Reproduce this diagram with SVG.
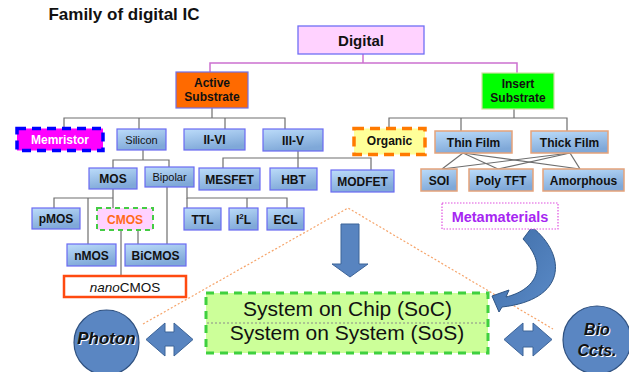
<svg xmlns="http://www.w3.org/2000/svg" width="629" height="372" viewBox="0 0 629 372">
  <defs>
    <linearGradient id="blue" x1="0" y1="0" x2="0.35" y2="1">
      <stop offset="0" stop-color="#BCDCFA"/>
      <stop offset="1" stop-color="#7FA8D8"/>
    </linearGradient>
    <linearGradient id="arc" x1="0" y1="0" x2="1" y2="1">
      <stop offset="0" stop-color="#3E6CA6"/>
      <stop offset="1" stop-color="#5B8BC8"/>
    </linearGradient>
  </defs>
  <style>
    text { font-family: "Liberation Sans", Arial, sans-serif; text-anchor: middle; fill: #111; }
    .b { font-weight: bold; font-size: 12px; }
    .r { font-size: 11px; }
    .bx { fill: url(#blue); stroke: #6A6AF2; stroke-width: 1.2; }
    .bo { fill: url(#blue); stroke: #E5A27A; stroke-width: 1.5; }
    .ln { fill: none; stroke: #6E6E6E; stroke-width: 1.2; }
    .mg { fill: none; stroke: #CC70D0; stroke-width: 1.5; }
    .dot { fill: none; stroke: #F6A46A; stroke-width: 1.2; stroke-dasharray: 2 2; }
    .blk { fill: #5884C0; stroke: #3D6498; stroke-width: 1; }
    .circ { fill: #5A86C2; stroke: #2F5180; stroke-width: 1.2; }
    .ci { font-weight: bold; font-style: italic; }
  </style>

  <!-- title -->
  <text x="124" y="20" style="font-size:17px;font-weight:bold;">Family of digital IC</text>

  <!-- connectors -->
  <g id="connectors">
    <polyline class="mg" points="363,54 363,63"/>
    <polyline class="mg" points="210,72 210,63 517,63 517,73"/>

    <polyline class="ln" points="212,108 212,118"/>
    <polyline class="ln" points="64,128 64,118 285,118 285,129"/>
    <polyline class="ln" points="139,118 139,129"/>
    <polyline class="ln" points="225,118 225,129"/>

    <polyline class="ln" points="514,109 514,118"/>
    <polyline class="ln" points="389,128 389,118 567,118 567,131"/>
    <polyline class="ln" points="461,118 461,131"/>

    <polyline class="ln" points="143,150 143,160"/>
    <polyline class="ln" points="113,168 113,160 169,160 169,167"/>

    <polyline class="ln" points="298,151 298,168"/>
    <polyline class="ln" points="223,168 223,158 371,158 371,170"/>

    <polyline class="ln" points="463,153 442,169"/>
    <polyline class="ln" points="463,153 498,169"/>
    <polyline class="ln" points="463,153 580,169"/>
    <polyline class="ln" points="570,153 442,169"/>
    <polyline class="ln" points="570,153 498,169"/>
    <polyline class="ln" points="570,153 580,169"/>

    <polyline class="ln" points="113,189 113,208"/>
    <polyline class="ln" points="54,208 54,198 113,198"/>
    <polyline class="ln" points="88,198 88,244"/>

    <polyline class="ln" points="167,187 167,244"/>
    <polyline class="ln" points="187,187 187,198 287,198 287,208"/>
    <polyline class="ln" points="187,198 187,208"/>
    <polyline class="ln" points="247,198 247,208"/>

    <polyline class="ln" points="138,230 138,244"/>
    <polyline class="ln" points="121,230 121,276"/>

    <!-- dotted fan from the family tree down to the system level -->
    <polyline class="dot" points="143,324 348,208 553,329"/>

    <!-- block arrows -->
    <path class="blk" d="M341 224 H359 V264 H368 L350 277 L332 264 H341 Z"/>
    <path class="blk" d="M146 339.5 L165 323 V332 H174 V323 L193 339.5 L174 356 V346 H165 V356 Z"/>
    <path class="blk" d="M504 339.5 L523 323 V331 H533 V323 L552 339.5 L533 356 V347 H523 V356 Z"/>
    <path d="M492 296 L509 290 L506 297 C531 291 552 270 523 239 L532 227 C568 256 566 300 502 307 L499 312 Z" fill="url(#arc)" stroke="#2F5584" stroke-width="1"/>
  </g>

  <!-- top level -->
  <g id="digital">
    <rect x="298" y="26" width="126" height="28" fill="#FFD2FF" stroke="#6F6FF5" stroke-width="1.3"/>
    <text x="361" y="45.5" style="font-size:15px;font-weight:bold;">Digital</text>
  </g>
  <g id="active">
    <rect x="176" y="72" width="72" height="36" fill="#FF6A00" stroke="#7070E8" stroke-width="1.2"/>
    <text class="b" x="212" y="87">Active</text>
    <text class="b" x="212" y="101">Substrate</text>
  </g>
  <g id="insert">
    <rect x="482" y="73" width="72" height="36" fill="#00FF00" stroke="#CFE0A0" stroke-width="1.2"/>
    <text class="b" x="518" y="88">Insert</text>
    <text class="b" x="518" y="101.5">Substrate</text>
  </g>

  <!-- active substrate branch -->
  <g id="memristor">
    <rect x="17" y="128.5" width="86" height="22" fill="#FF00FF" stroke="#0000FF" stroke-width="3.5" stroke-dasharray="9 6"/>
    <text class="b" x="60" y="143.5" style="fill:#FFFFFF;">Memristor</text>
  </g>
  <g id="silicon">
    <rect class="bx" x="117" y="129" width="49" height="21"/>
    <text class="r" x="141.5" y="143.5">Silicon</text>
  </g>
  <g id="ii-vi">
    <rect class="bx" x="184" y="129" width="61" height="21"/>
    <text class="b" x="214.5" y="144">II-VI</text>
  </g>
  <g id="iii-v">
    <rect class="bx" x="263" y="129" width="60" height="22"/>
    <text class="b" x="293" y="144.5">III-V</text>
  </g>
  <g id="mos">
    <rect class="bx" x="89" y="168" width="48" height="21"/>
    <text class="b" x="113" y="183">MOS</text>
  </g>
  <g id="bipolar">
    <rect class="bx" x="145" y="167" width="49" height="20"/>
    <text class="r" x="169.5" y="181">Bipolar</text>
  </g>
  <g id="mesfet">
    <rect class="bx" x="199" y="168" width="61" height="22"/>
    <text class="b" x="229.5" y="183.5">MESFET</text>
  </g>
  <g id="hbt">
    <rect class="bx" x="270" y="168" width="47" height="22"/>
    <text class="b" x="293.5" y="183.5">HBT</text>
  </g>
  <g id="modfet">
    <rect class="bx" x="331" y="170" width="63" height="22"/>
    <text class="b" x="362.5" y="185.5">MODFET</text>
  </g>
  <g id="pmos">
    <rect class="bx" x="32" y="208" width="48" height="21"/>
    <text class="b" x="56" y="223">pMOS</text>
  </g>
  <g id="cmos">
    <rect x="97" y="208" width="56" height="22" fill="#FFD2FF" stroke="#44CC44" stroke-width="2" stroke-dasharray="5 4"/>
    <text class="b" x="125" y="223.5" style="fill:#FF6A1A;">CMOS</text>
  </g>
  <g id="ttl">
    <rect class="bx" x="184" y="208" width="37" height="22"/>
    <text class="b" x="202.5" y="223.5">TTL</text>
  </g>
  <g id="i2l">
    <rect class="bx" x="229" y="208" width="29" height="22"/>
    <text class="b" x="243.5" y="223.5">I<tspan style="font-size:8px;" dy="-5">2</tspan><tspan dy="5">L</tspan></text>
  </g>
  <g id="ecl">
    <rect class="bx" x="267" y="208" width="37" height="22"/>
    <text class="b" x="285.5" y="223.5">ECL</text>
  </g>
  <g id="nmos">
    <rect class="bx" x="67" y="244" width="49" height="22"/>
    <text class="b" x="91.5" y="259.5">nMOS</text>
  </g>
  <g id="bicmos">
    <rect class="bx" x="125" y="244" width="61" height="22"/>
    <text class="b" x="155.5" y="259.5">BiCMOS</text>
  </g>
  <g id="nanocmos">
    <rect x="64" y="276" width="122" height="21" fill="#FFFFFF" stroke="#FF4A10" stroke-width="2.5"/>
    <text x="125" y="291.5" style="font-size:13.5px;"><tspan style="font-style:italic;">nano</tspan>CMOS</text>
  </g>

  <!-- insert substrate branch -->
  <g id="organic">
    <rect x="354" y="128.5" width="71" height="26" fill="#FFFF99" stroke="#FF7A00" stroke-width="3.5" stroke-dasharray="10 6"/>
    <text class="b" x="389.5" y="145">Organic</text>
  </g>
  <g id="thin-film">
    <rect class="bo" x="435" y="131" width="77" height="22"/>
    <text class="b" x="473.5" y="146.5">Thin Film</text>
  </g>
  <g id="thick-film">
    <rect class="bo" x="531" y="131" width="77" height="22"/>
    <text class="b" x="569.5" y="146.5">Thick Film</text>
  </g>
  <g id="soi">
    <rect class="bo" x="421" y="169" width="36" height="22"/>
    <text class="b" x="439" y="184.5">SOI</text>
  </g>
  <g id="poly-tft">
    <rect class="bo" x="469" y="169" width="64" height="22"/>
    <text class="b" x="501" y="184.5">Poly TFT</text>
  </g>
  <g id="amorphous">
    <rect class="bo" x="543" y="169" width="81" height="22"/>
    <text class="b" x="583.5" y="184.5">Amorphous</text>
  </g>
  <g id="metamaterials">
    <rect x="442" y="203" width="116" height="26" fill="#FFFFFF" stroke="#E050E0" stroke-width="1.2" stroke-dasharray="1.5 1.5"/>
    <text x="500" y="221.5" style="font-size:14.5px;font-weight:bold;fill:#A626F2;">Metamaterials</text>
  </g>

  <!-- system level -->
  <g id="system">
    <rect x="206" y="293" width="282" height="60" fill="#CCFF99" stroke="#3FD03F" stroke-width="3" stroke-dasharray="8 6"/>
    <line x1="207" y1="323" x2="487" y2="323" stroke="#8A8A8A" stroke-width="1" stroke-dasharray="2 2"/>
    <text x="347.5" y="316" style="font-size:21px;">System on Chip (SoC)</text>
    <text x="347" y="340" style="font-size:21px;">System on System (SoS)</text>
  </g>
  <g id="photon">
    <circle class="circ" cx="106.5" cy="342.5" r="32.5"/>
    <text class="ci" x="107.5" y="345" style="font-size:17px;fill:#FFFFFF;">Photon</text>
    <text class="ci" x="106.5" y="344" style="font-size:17px;">Photon</text>
  </g>
  <g id="bio">
    <circle class="circ" cx="597" cy="340" r="34"/>
    <text class="ci" x="598" y="336" style="font-size:16px;fill:#FFFFFF;">Bio</text>
    <text class="ci" x="597" y="335" style="font-size:16px;">Bio</text>
    <text class="ci" x="598" y="357" style="font-size:16px;fill:#FFFFFF;">Ccts.</text>
    <text class="ci" x="597" y="356" style="font-size:16px;">Ccts.</text>
  </g>
</svg>
